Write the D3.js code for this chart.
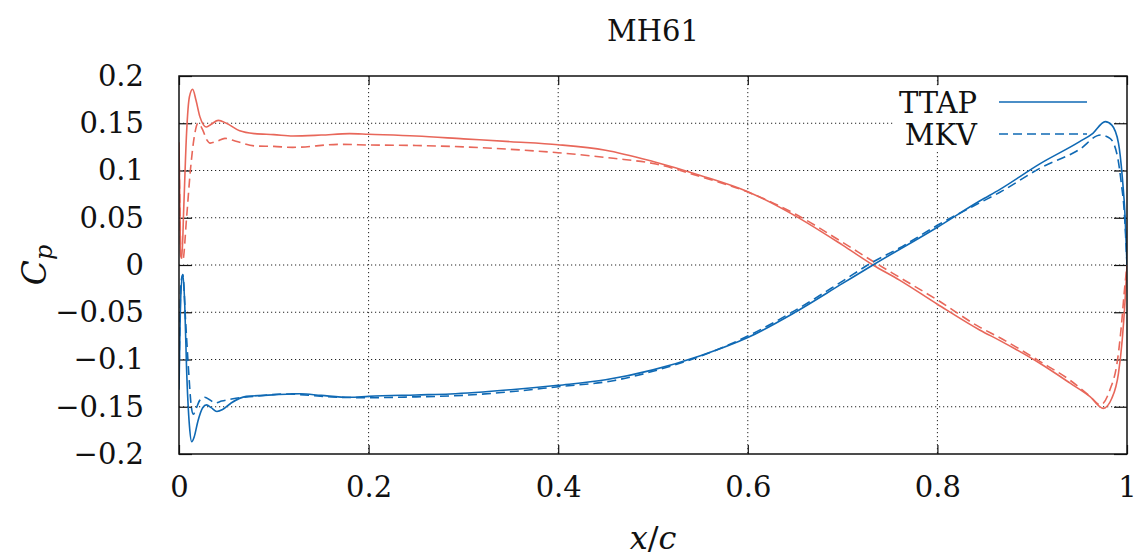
<!DOCTYPE html>
<html>
<head>
<meta charset="utf-8">
<script src="https://cdn.jsdelivr.net/npm/d3@7/dist/d3.min.js"></script>
<style>
html,body{margin:0;padding:0;background:#fff;}
svg text{fill:#111;}
</style>
</head>
<body>
<svg id="chart" width="1137" height="556"></svg>
<script>
// ---- data ----
const title = "MH61";
const xTicks = [0, 0.2, 0.4, 0.6, 0.8, 1];
const xTickLabels = ["0", "0.2", "0.4", "0.6", "0.8", "1"];
const yTicks = [0.2, 0.15, 0.1, 0.05, 0, -0.05, -0.1, -0.15, -0.2];
const yTickLabels = ["0.2", "0.15", "0.1", "0.05", "0", "\u22120.05", "\u22120.1", "\u22120.15", "\u22120.2"];

// TTAP, first surface (red solid)
const ttapRedX = [0, 0.0008, 0.0018, 0.003, 0.005, 0.008, 0.011, 0.0144, 0.018, 0.022, 0.026, 0.029, 0.034, 0.0415, 0.05, 0.064, 0.08, 0.1, 0.12, 0.15, 0.18, 0.2, 0.25, 0.3, 0.35, 0.4, 0.45, 0.5, 0.55, 0.6, 0.65, 0.7, 0.732, 0.76, 0.8, 0.845, 0.866, 0.908, 0.94, 0.961, 0.975, 0.984, 0.991, 0.995, 0.998, 1.0];
const ttapRedCp = [0.13, 0.07, 0.01, 0.008, 0.06, 0.14, 0.178, 0.186, 0.174, 0.157, 0.148, 0.146, 0.149, 0.153, 0.15, 0.142, 0.139, 0.138, 0.1365, 0.1375, 0.139, 0.1383, 0.1365, 0.1335, 0.1305, 0.1273, 0.1215, 0.1095, 0.0948, 0.0776, 0.052, 0.021, 0.0, -0.016, -0.0415, -0.069, -0.08, -0.104, -0.125, -0.1393, -0.1517, -0.141, -0.1146, -0.079, -0.037, 0.0];
// MKV, first surface (red dashed)
const mkvRedX = [0, 0.001, 0.002, 0.004, 0.008, 0.012, 0.016, 0.02, 0.025, 0.029, 0.033, 0.04, 0.0485, 0.06, 0.08, 0.1, 0.12, 0.17, 0.2, 0.25, 0.3, 0.34, 0.4, 0.458, 0.5, 0.55, 0.6, 0.65, 0.7, 0.735, 0.76, 0.8, 0.845, 0.866, 0.908, 0.94, 0.96, 0.972, 0.982, 0.99, 0.994, 0.997, 1.0];
const mkvRedCp = [0.12, 0.06, 0.01, 0.005, 0.05, 0.1, 0.135, 0.15, 0.143, 0.133, 0.129, 0.131, 0.134, 0.131, 0.126, 0.1255, 0.1245, 0.1277, 0.127, 0.1265, 0.125, 0.123, 0.1188, 0.1129, 0.1075, 0.0935, 0.0772, 0.054, 0.024, 0.002, -0.013, -0.037, -0.066, -0.077, -0.102, -0.122, -0.138, -0.148, -0.132, -0.1005, -0.065, -0.03, 0.0];
// TTAP, second surface (blue solid)
const ttapBlueX = [0, 0.001, 0.002, 0.004, 0.006, 0.008, 0.011, 0.0134, 0.016, 0.02, 0.025, 0.029, 0.034, 0.04, 0.046, 0.055, 0.071, 0.09, 0.117, 0.128, 0.15, 0.18, 0.2, 0.25, 0.286, 0.35, 0.4, 0.45, 0.5, 0.55, 0.6, 0.65, 0.7, 0.732, 0.8, 0.845, 0.866, 0.908, 0.95, 0.964, 0.977, 0.984, 0.991, 0.995, 0.998, 1.0];
const ttapBlueCp = [-0.132, -0.07, -0.03, -0.01, -0.04, -0.11, -0.17, -0.187, -0.182, -0.165, -0.151, -0.148, -0.151, -0.155, -0.153, -0.146, -0.139, -0.138, -0.1365, -0.1362, -0.138, -0.14, -0.139, -0.1375, -0.1365, -0.132, -0.1273, -0.1215, -0.111, -0.096, -0.0768, -0.05, -0.0195, 0.0, 0.04, 0.068, 0.08, 0.107, 0.1305, 0.1394, 0.1517, 0.148, 0.129, 0.0935, 0.051, 0.0];
// MKV, second surface (blue dashed)
const mkvBlueX = [0, 0.001, 0.002, 0.004, 0.007, 0.01, 0.013, 0.015, 0.018, 0.022, 0.027, 0.033, 0.038, 0.045, 0.06, 0.08, 0.11, 0.17, 0.2, 0.25, 0.286, 0.34, 0.4, 0.458, 0.5, 0.55, 0.6, 0.65, 0.7, 0.73, 0.76, 0.8, 0.845, 0.866, 0.908, 0.95, 0.972, 0.982, 0.99, 0.994, 0.997, 1.0];
const mkvBlueCp = [-0.12, -0.06, -0.02, -0.01, -0.06, -0.11, -0.15, -0.158, -0.152, -0.143, -0.14, -0.143, -0.146, -0.144, -0.141, -0.139, -0.1365, -0.14, -0.1404, -0.1395, -0.1386, -0.135, -0.1288, -0.1224, -0.1125, -0.0965, -0.0752, -0.048, -0.017, 0.002, 0.018, 0.042, 0.066, 0.077, 0.1023, 0.1224, 0.1376, 0.134, 0.1146, 0.0864, 0.058, 0.0];

const legendNames = ["TTAP", "MKV"];

// ---- drawing ----
const FONT = "DejaVu Serif, serif";
const m = {left: 179, right: 1127, top: 76, bottom: 454};
const red = "#e8675a", blue = "#0f69b4";
const svg = d3.select("#chart").attr("font-family", FONT);
const x = d3.scaleLinear().domain([0, 1]).range([m.left, m.right]);
const y = d3.scaleLinear().domain([-0.2, 0.2]).range([m.bottom, m.top]);

svg.append("defs").append("clipPath").attr("id", "clip")
  .append("rect").attr("x", m.left).attr("y", m.top)
  .attr("width", m.right - m.left).attr("height", m.bottom - m.top);

// grid
const grid = svg.append("g");
grid.selectAll(".gx").data(xTicks.slice(1, -1)).join("line")
  .attr("x1", d => x(d)).attr("x2", d => x(d)).attr("y1", m.top).attr("y2", m.bottom)
  .attr("stroke", "#222").attr("stroke-width", 1).attr("stroke-dasharray", "1.2,2.8");
grid.selectAll(".gy").data(yTicks.slice(1, -1)).join("line")
  .attr("y1", d => y(d)).attr("y2", d => y(d)).attr("x1", m.left).attr("x2", m.right)
  .attr("stroke", "#222").attr("stroke-width", 1).attr("stroke-dasharray", "1.2,2.8");

// legend background (opaque key box, below the curves)
svg.append("rect").attr("x", 893).attr("y", 86).attr("width", 220).attr("height", 64).attr("fill", "#fff");

// axes with inward mirrored ticks
const axB = d3.axisBottom(x).tickValues(xTicks).tickSize(-9).tickFormat((d, i) => xTickLabels[i]).tickPadding(22);
const axT = d3.axisTop(x).tickValues(xTicks).tickSize(-9).tickFormat("");
const axL = d3.axisLeft(y).tickValues(yTicks).tickSize(-13).tickFormat((d, i) => yTickLabels[i]).tickPadding(35);
const axR = d3.axisRight(y).tickValues(yTicks).tickSize(-13).tickFormat("");
function styleAxis(g) {
  g.attr("font-family", FONT);
  g.select(".domain").remove();
  g.selectAll("line").attr("stroke", "#111").attr("stroke-width", 1.2);
  g.selectAll("text").attr("font-size", 29).attr("fill", "#111");
}
svg.append("g").attr("transform", `translate(0,${m.bottom})`).call(axB).call(styleAxis);
svg.append("g").attr("transform", `translate(0,${m.top})`).call(axT).call(styleAxis);
svg.append("g").attr("transform", `translate(${m.left},0)`).call(axL).call(styleAxis);
svg.append("g").attr("transform", `translate(${m.right},0)`).call(axR).call(styleAxis);

// curves
const line = d3.line().x(d => x(d[0])).y(d => y(d[1])).curve(d3.curveMonotoneX);
const series = [
  {xs: mkvRedX, ys: mkvRedCp, color: red, dash: "9,5"},
  {xs: mkvBlueX, ys: mkvBlueCp, color: blue, dash: "9,5"},
  {xs: ttapRedX, ys: ttapRedCp, color: red, dash: null},
  {xs: ttapBlueX, ys: ttapBlueCp, color: blue, dash: null}
];
const plot = svg.append("g").attr("clip-path", "url(#clip)");
series.forEach(s => {
  plot.append("path").datum(d3.zip(s.xs, s.ys))
    .attr("d", line).attr("fill", "none").attr("stroke", s.color)
    .attr("stroke-width", 1.6).attr("stroke-dasharray", s.dash);
});

// frame
svg.append("rect").attr("x", m.left).attr("y", m.top)
  .attr("width", m.right - m.left).attr("height", m.bottom - m.top)
  .attr("fill", "none").attr("stroke", "#111").attr("stroke-width", 1.5);

// legend
const leg = svg.append("g");
legendNames.forEach((name, i) => {
  const ly = 102 + i * 32;
  leg.append("text").attr("x", 977).attr("y", ly + 11).attr("text-anchor", "end")
    .attr("font-size", 29).text(name);
  leg.append("line").attr("x1", 999).attr("x2", 1087).attr("y1", ly).attr("y2", ly)
    .attr("stroke", blue).attr("stroke-width", 1.6).attr("stroke-dasharray", i === 0 ? null : "9,5");
});

// title and axis labels
svg.append("text").attr("x", (m.left + m.right) / 2).attr("y", 41).attr("text-anchor", "middle")
  .attr("font-size", 29).text(title);
const xl = svg.append("text").attr("x", (m.left + m.right) / 2).attr("y", 549).attr("text-anchor", "middle")
  .attr("font-size", 32).attr("font-style", "italic");
xl.append("tspan").text("x");
xl.append("tspan").attr("font-style", "normal").text("/");
xl.append("tspan").text("c");
const yl = svg.append("text").attr("transform", `translate(46,${(m.top + m.bottom) / 2}) rotate(-90)`)
  .attr("text-anchor", "middle").attr("font-size", 33).attr("font-style", "italic");
yl.append("tspan").text("C");
yl.append("tspan").attr("font-size", 24).attr("dy", 6).text("p");
</script>
</body>
</html>
